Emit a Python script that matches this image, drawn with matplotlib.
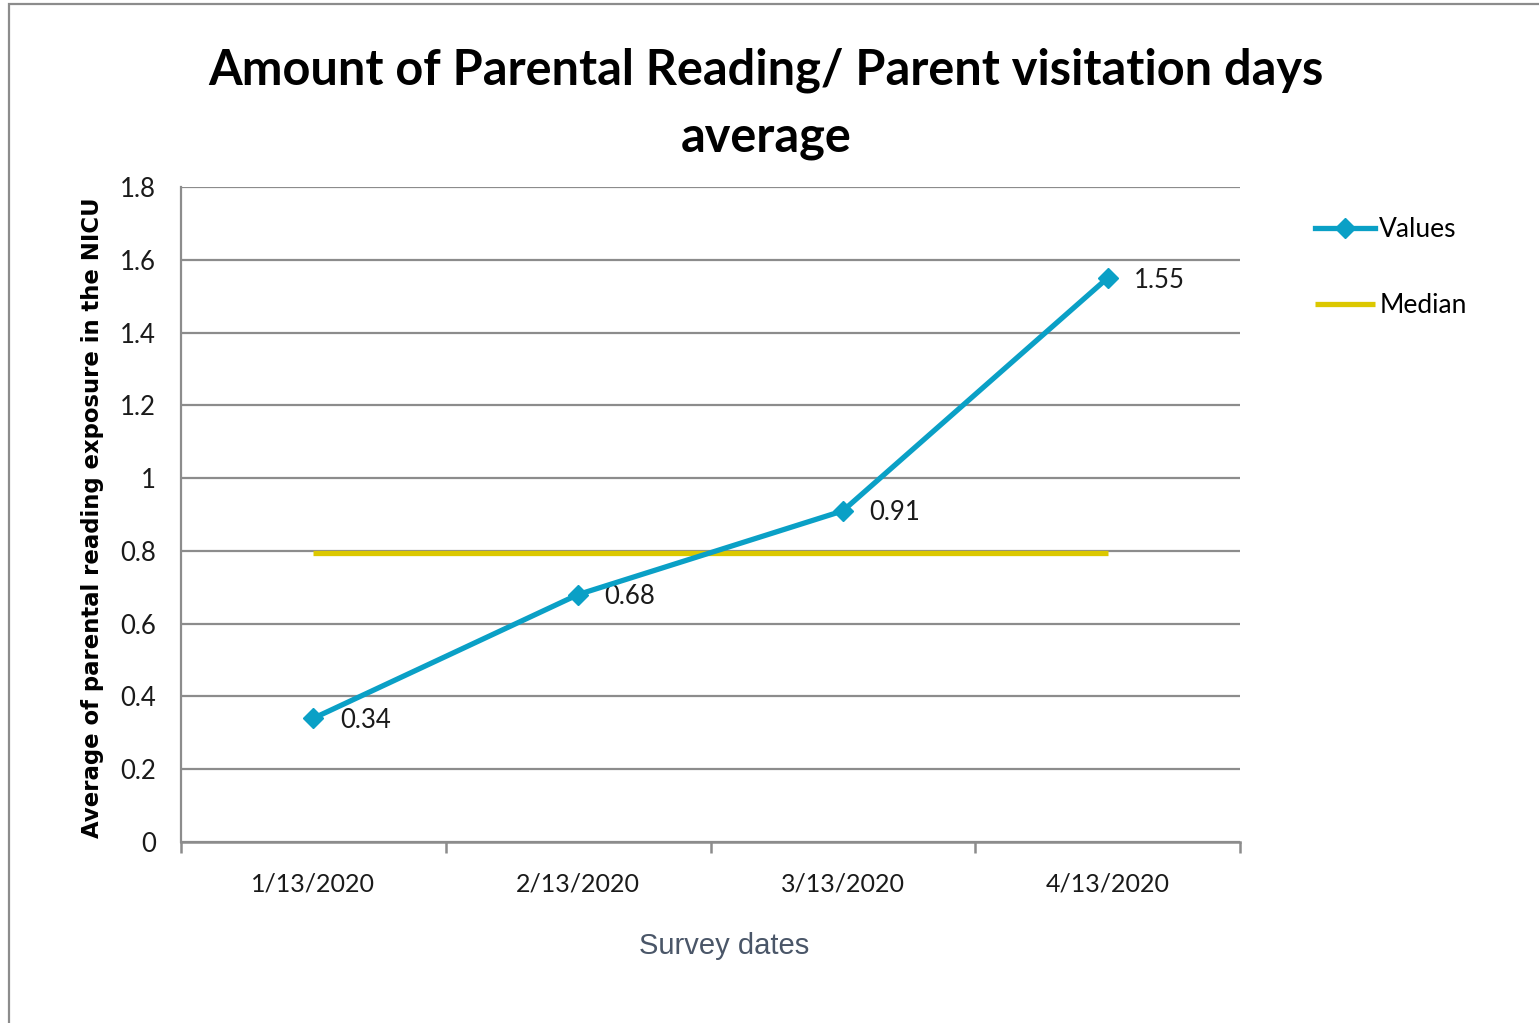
import matplotlib
matplotlib.use("Agg")
import matplotlib.pyplot as plt
from matplotlib.patches import Rectangle

categories = ["1/13/2020", "2/13/2020", "3/13/2020", "4/13/2020"]
values = [0.34, 0.68, 0.91, 1.55]
median_values = [0.795, 0.795, 0.795, 0.795]
yticks = [0, 0.2, 0.4, 0.6, 0.8, 1.0, 1.2, 1.4, 1.6, 1.8]
ytick_labels = ["0", "0.2", "0.4", "0.6", "0.8", "1", "1.2", "1.4", "1.6", "1.8"]

plt.rcParams['font.family'] = ['Lato', 'DejaVu Sans']

W, H = 1539, 1023
fig = plt.figure(figsize=(W / 100, H / 100), dpi=100)
fig.patch.set_facecolor("white")

# outer chart border
fig.patches.append(Rectangle((9 / W, -0.05), 1.2, 1 - 4 / H + 0.05, transform=fig.transFigure,
                             fill=False, edgecolor="#8c8c8c", linewidth=1.6, zorder=0))

ax = fig.add_axes([181 / W, 1 - 842 / H, (1240 - 181) / W, (842 - 187) / H])
x = list(range(len(categories)))

line_color = "#0aa0c6"
med_color = "#dcc800"

ax.plot(x, median_values, color=med_color, linewidth=3.8, solid_capstyle="butt", label="Median", zorder=3)
ax.plot(x, values, color=line_color, linewidth=3.8, marker="D", markersize=10,
        label="Values", zorder=4)

for xi, v in zip(x, values):
    ax.annotate(f"{v:.2f}", (xi, v), xytext=(19, -1.5), textcoords="offset points",
                ha="left", va="center", fontsize=18.5, color="#1a1a1a")

ax.set_xlim(-0.5, len(categories) - 0.5)
ax.set_ylim(0, 1.8)
ax.set_yticks(yticks)
ax.set_yticklabels(ytick_labels, fontsize=18.5, color="#1a1a1a")
ax.set_xticks(x)
ax.set_xticklabels(categories, fontsize=18, color="#1a1a1a")
ax.set_xticks([i - 0.5 for i in range(len(categories) + 1)], minor=True)
ax.tick_params(axis="x", which="major", length=0, pad=22)
ax.tick_params(axis="x", which="minor", length=8, width=1.8, color="#8c8c8c", direction="out")
ax.tick_params(axis="y", length=0, pad=18)

ax.grid(axis="y", color="#8c8c8c", linewidth=1.6, zorder=0)
ax.set_axisbelow(True)
for s in ["top", "right"]:
    ax.spines[s].set_visible(False)
ax.spines["left"].set_color("#8c8c8c")
ax.spines["left"].set_linewidth(1.6)
ax.spines["bottom"].set_color("#8c8c8c")
ax.spines["bottom"].set_linewidth(1.8)

ax.set_ylabel("Average of parental reading exposure in the NICU", fontsize=16.4,
              fontweight="bold", family=["DejaVu Sans"])
ax.yaxis.set_label_coords(-(181 - 93) / (1240 - 181), (842 - 518) / (842 - 187))
ax.yaxis.label.set_va("center")
ax.set_xlabel("Survey dates", fontsize=21, color="#4a5668",
              family=["Liberation Sans", "DejaVu Sans"])
ax.xaxis.set_label_coords((724 - 181) / (1240 - 181), -(932 - 842) / (842 - 187))

fig.text(766 / W, 1 - 70 / H, "Amount of Parental Reading/ Parent visitation days",
         ha="center", va="center", fontsize=35, fontweight="bold")
fig.text(766 / W, 1 - 137 / H, "average",
         ha="center", va="center", fontsize=35, fontweight="bold")

handles, labels = ax.get_legend_handles_labels()
leg = fig.legend(handles[::-1], labels[::-1], loc="upper left",
                 bbox_to_anchor=(1291 / W, 1 - 193 / H), frameon=False,
                 fontsize=19, handlelength=2.3, handletextpad=0.15, labelspacing=1.95)

fig.savefig("out.png", dpi=100, facecolor="white")
